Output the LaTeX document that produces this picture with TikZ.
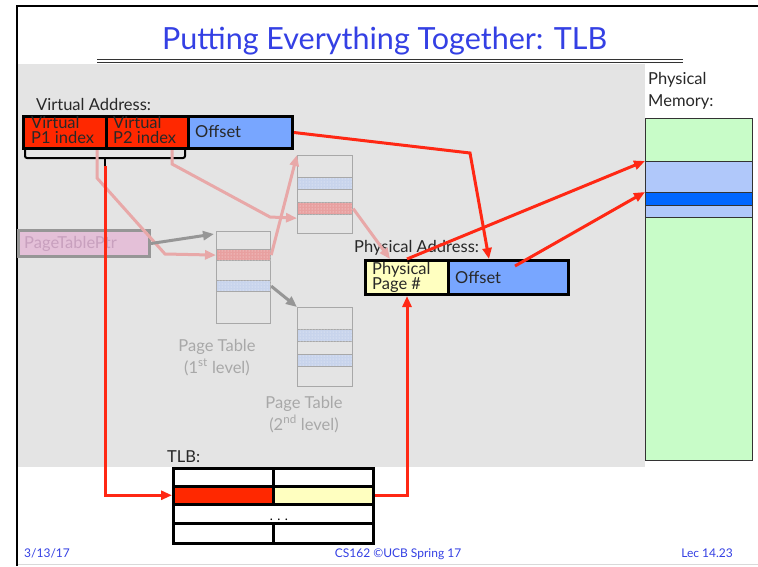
\documentclass[tikz,border=0pt]{standalone}
\usepackage{fontspec}
\setmainfont{Lato}
\usetikzlibrary{arrows.meta,patterns,calc}

\definecolor{slideblue}{RGB}{52,64,228}
\definecolor{panelgray}{RGB}{228,228,228}
\definecolor{vred}{RGB}{255,40,0}
\definecolor{offblue}{RGB}{120,166,255}
\definecolor{pyellow}{RGB}{255,255,192}
\definecolor{memgreen}{RGB}{200,252,200}
\definecolor{memlight}{RGB}{176,200,250}
\definecolor{memdark}{RGB}{0,102,255}
\definecolor{arrred}{RGB}{255,40,20}
\definecolor{fadepink}{RGB}{232,168,168}
\definecolor{ptline}{RGB}{168,168,168}
\definecolor{ptred}{RGB}{232,160,160}
\definecolor{ptblue}{RGB}{200,212,236}
\definecolor{ptrfill}{RGB}{228,192,216}
\definecolor{ptrtext}{RGB}{200,160,190}
\definecolor{ptrline}{RGB}{150,150,150}
\definecolor{darktext}{RGB}{40,40,40}
\definecolor{fadetext}{RGB}{168,168,168}

\begin{document}
\begin{tikzpicture}[x=1pt,y=-1pt,
  title/.style={text=slideblue, inner sep=0, anchor=base west, font=\fontsize{30.5}{32}\selectfont},
  foot/.style={text=slideblue, inner sep=0, anchor=base, font=\fontsize{12}{14}\selectfont},
  lbl/.style={text=darktext, inner sep=0, anchor=base west, font=\fontsize{16.5}{17}\selectfont},
  fadelbl/.style={text=fadetext, inner sep=0, anchor=base, font=\fontsize{16.5}{17}\selectfont},
  cellbox/.style={draw=black, line width=3pt, inner sep=0, anchor=north west},
  tlbcell/.style={draw=black, line width=2.5pt, inner sep=0, anchor=north west},
  ptbox/.style={draw=ptline, line width=1.2pt, inner sep=0, anchor=north west},
  ptrow/.style={ptbox, fill=#1, postaction={pattern=dots, pattern color=white!80!#1}},
  membox/.style={draw=black!80, line width=1pt, inner sep=0, anchor=north west},
  tip/.style={-{Triangle[length=11pt,width=9pt]}},
  redarrow/.style={draw=arrred, line width=3pt, tip},
  pinkarrow/.style={draw=fadepink, line width=3pt, tip},
  grayarrow/.style={draw=ptrline, line width=3pt, tip},
]
\useasboundingbox (0,0) rectangle (758,566);
\fill[white] (0,0) rectangle (758,566);

% slide frame, panel and heading
\fill[panelgray] (18,63.5) rectangle (645,467);
\draw[line width=2pt] (17,566) -- (17,5.5) -- (758,5.5);
\draw[black!15, line width=1pt] (18,564) -- (758,564);
\node[title] (title) at (162,49) {Putting Everything Together: TLB};
\draw[black!80, line width=1.2pt] (97,59.5) -- (683,59.5);
\draw[black!80, line width=0.8pt] (97,62) -- (683,62);

% virtual address
\node[lbl] (valbl) at (36,110) {Virtual Address:};
\node[cellbox, fill=vred, minimum width=83, minimum height=32] (vp1) at (22,115) {};
\node[cellbox, fill=vred, minimum width=82, minimum height=32] (vp2) at (105,115) {};
\node[cellbox, fill=offblue, minimum width=104, minimum height=32] (voff) at (187,115) {};
\node[lbl] (vp1a) at (31,128) {Virtual};
\node[lbl] (vp1b) at (31,143) {P1 index};
\node[lbl] (vp2a) at (113,128) {Virtual};
\node[lbl] (vp2b) at (113,143) {P2 index};
\node[lbl] (voffl) at (195,137) {Offset};
\draw[line width=2pt, rounded corners=2pt] (25,150) -- (25,158) -- (185,158) -- (185,150);
\draw[line width=2pt] (105,158) -- (105,166);
\coordinate (bracetip) at (105,166);

% page table pointer
\node[draw=ptrline, fill=ptrfill, line width=3pt, inner sep=0, anchor=north west,
      minimum width=131, minimum height=26] (ptr) at (17,229) {};
\node[text=ptrtext, inner sep=0, anchor=base west, font=\fontsize{16.5}{17}\selectfont] (ptrl) at (24,248) {PageTablePtr};

% first level page table
\node[ptbox, minimum width=54, minimum height=92] (pt1) at (216,231) {};
\node[ptrow=ptred, minimum width=54, minimum height=11] (pt1red) at (216,249) {};
\node[ptrow=ptblue, minimum width=54, minimum height=11] (pt1blue) at (216,280) {};
\node[fadelbl] (pt1la) at (217,351) {Page Table};
\node[fadelbl] (pt1lb) at (217,373) {(1\textsuperscript{st} level)};

% second level page tables
\node[ptbox, minimum width=55, minimum height=78] (pt2a) at (297,155) {};
\node[ptrow=ptblue, minimum width=55, minimum height=12] (pt2ablue) at (297,177) {};
\node[ptrow=ptred, minimum width=55, minimum height=12] (pt2ared) at (297,202) {};
\node[ptbox, minimum width=55, minimum height=79] (pt2b) at (297,307) {};
\node[ptrow=ptblue, minimum width=55, minimum height=12] (pt2bb1) at (297,329) {};
\node[ptrow=ptblue, minimum width=55, minimum height=12] (pt2bb2) at (297,354) {};
\node[fadelbl] (pt2la) at (304,408) {Page Table};
\node[fadelbl] (pt2lb) at (304,430) {(2\textsuperscript{nd} level)};

% physical address
\node[lbl] (palbl) at (354,252) {Physical Address:};
\node[cellbox, fill=pyellow, minimum width=83, minimum height=34] (ppn) at (364,259) {};
\node[cellbox, fill=offblue, minimum width=120, minimum height=34] (poff) at (447,259) {};
\node[lbl] (ppna) at (372,274) {Physical};
\node[lbl] (ppnb) at (372,289) {Page \#};
\node[lbl] (poffl) at (455,283) {Offset};

% physical memory
\node[lbl, anchor=north west, align=left, font=\fontsize{16.5}{22}\selectfont] (memlbl) at (648,72) {Physical\\Memory:};
\node[membox, fill=memgreen, minimum width=107, minimum height=342] (mem) at (645,118) {};
\node[membox, fill=memlight, minimum width=107, minimum height=56] (memhi) at (645,161) {};
\node[membox, fill=memdark, minimum width=107, minimum height=13] (memdk) at (645,192) {};

% TLB
\node[lbl] (tlblbl) at (167,462) {TLB:};
\node[tlbcell, minimum width=100, minimum height=18] (t1a) at (172,467) {};
\node[tlbcell, minimum width=100, minimum height=18] (t1b) at (272,467) {};
\node[tlbcell, fill=vred, minimum width=100, minimum height=18] (tlbR) at (172,485) {};
\node[tlbcell, fill=pyellow, minimum width=100, minimum height=18] (tlbY) at (272,485) {};
\node[tlbcell, minimum width=200, minimum height=19] (t3) at (172,503) {};
\node[tlbcell, minimum width=100, minimum height=20] (t4a) at (172,522) {};
\node[tlbcell, minimum width=100, minimum height=20] (t4b) at (272,522) {};
\node[inner sep=0, anchor=base, font=\fontsize{13}{14}\selectfont] (tdots) at (279,520) {. . .};

% faded page-table walk
\draw[pinkarrow] (97,150) -- (97,178) -- (165,254) -- (pt1red.west);
\draw[pinkarrow] (172,150) -- (172,164) -- (270,217) -- ($(pt2ared.south west)+(0,3)$);
\draw[pinkarrow] (pt1red.east) -- (pt2a.north west);
\draw[pinkarrow] (pt2ared.east) -- ($(ppn.north west)+(26,0)$);
\draw[grayarrow] (ptr.east) -- ($(pt1.north west)+(-2,3)$);
\draw[grayarrow] (pt1blue.east) -- (pt2b.north west);

% TLB translation path
\draw[redarrow] (bracetip) |- (tlbR.west);
\draw[redarrow] (tlbY.east) -| (ppn.south);
\coordinate (offbend) at (470,153);
\draw[redarrow] (voff.east) -- (offbend) -- ($(poff.north west)+(42,0)$);
\coordinate (pofftail) at (515,266);
\draw[redarrow] (ppn.north) -- (memhi.north west);
\draw[redarrow] (pofftail) -- (memdk.north west);

% footer
\node[foot, anchor=base west] (fdate) at (24,557) {3/13/17};
\node[foot] (fcourse) at (398,557) {CS162 ©UCB Spring 17};
\node[foot, anchor=base east] (flec) at (733,557) {Lec 14.23};
\end{tikzpicture}
\end{document}
